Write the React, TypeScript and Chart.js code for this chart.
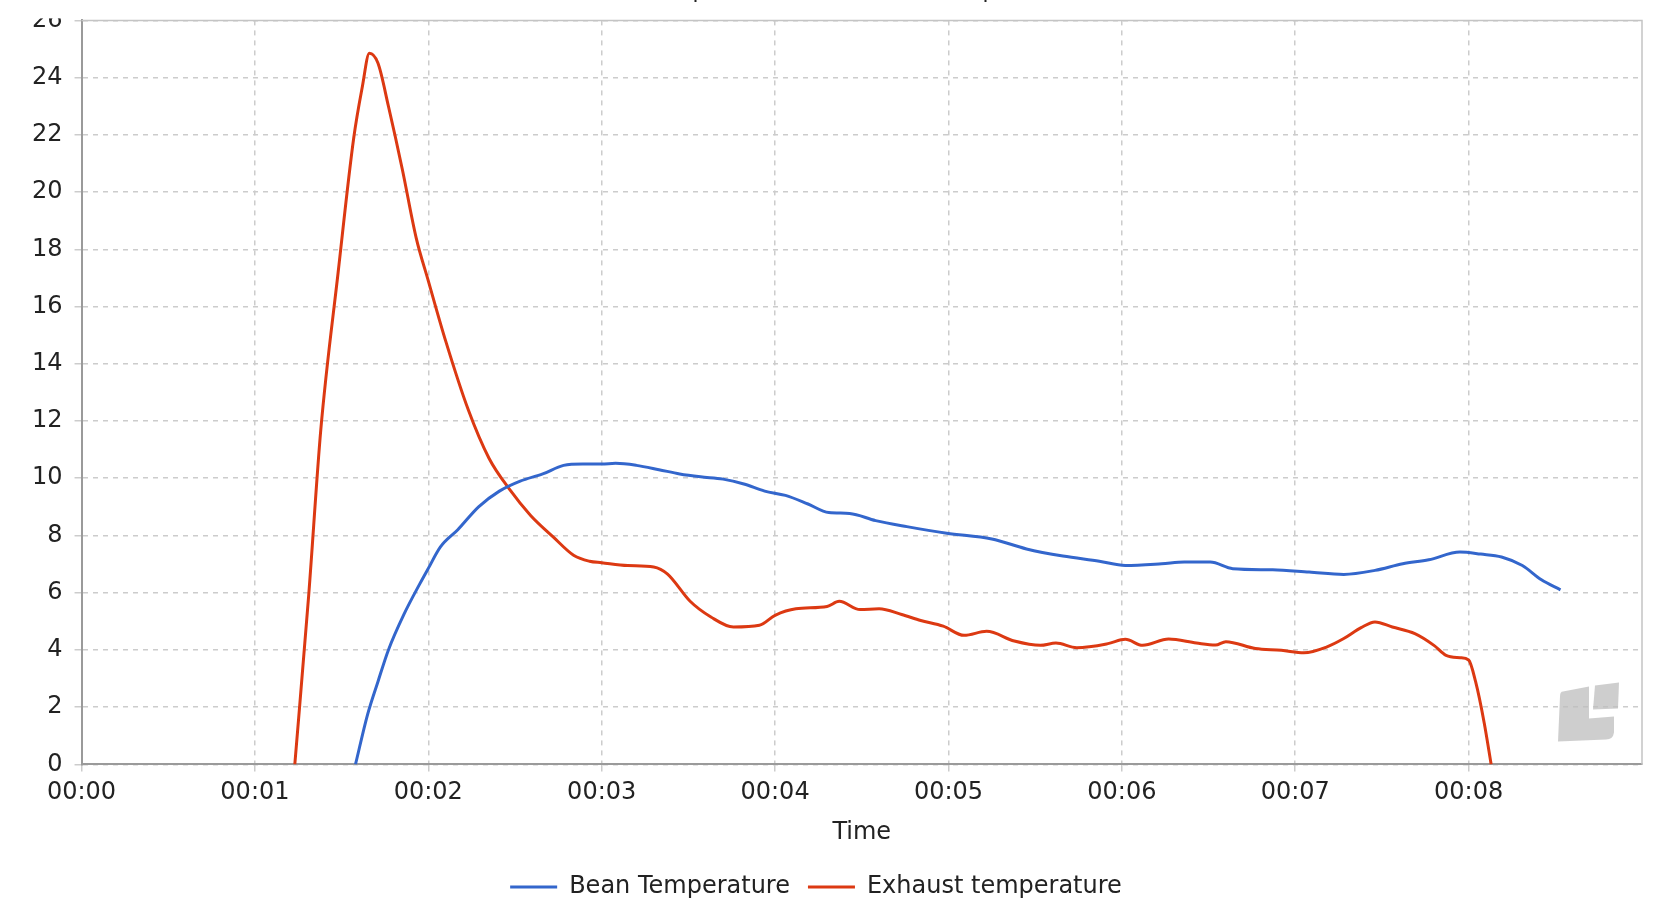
import { useEffect, useRef } from "react";
import { Chart, type ChartConfiguration, type Plugin, registerables } from "chart.js";

Chart.register(...registerables);

const CHART_TITLE = "Bean Temperature and Exhaust Temperature";
const BEAN_LABEL = "Bean Temperature";
const EXHAUST_LABEL = "Exhaust temperature";
const X_TITLE = "Time";

const X_TICKS = [0, 1, 2, 3, 4, 5, 6, 7, 8];
const Y_TICKS = [0, 2, 4, 6, 8, 10, 12, 14, 16, 18, 20, 22, 24, 26];

const beanTimes = [
  1.58, 1.65, 1.71, 1.77, 1.86, 1.95, 2.0, 2.07, 2.17, 2.29, 2.41, 2.53, 2.66, 2.78, 2.89, 3.0,
  3.08, 3.2, 3.33, 3.45, 3.57, 3.7, 3.82, 3.94, 4.06, 4.19, 4.31, 4.43, 4.58, 4.76, 4.99, 5.25,
  5.45, 5.66, 5.87, 6.02, 6.23, 6.36, 6.51, 6.64, 6.87, 7.08, 7.28, 7.46, 7.62, 7.77, 7.95, 8.07,
  8.19, 8.31, 8.42, 8.53,
];
const beanValues = [
  0, 1.75, 2.9, 4.0, 5.25, 6.3, 6.85, 7.6, 8.2, 9.0, 9.55, 9.9, 10.15, 10.45, 10.5, 10.5,
  10.52, 10.45, 10.3, 10.15, 10.05, 9.97, 9.8, 9.55, 9.4, 9.1, 8.8, 8.77, 8.52, 8.31, 8.08, 7.88,
  7.53, 7.28, 7.1, 6.95, 7.01, 7.07, 7.07, 6.84, 6.8, 6.72, 6.64, 6.78, 7.01, 7.15, 7.42, 7.35,
  7.25, 6.95, 6.45, 6.1,
];

const exhaustTimes = [
  1.23, 1.31, 1.38, 1.48, 1.57, 1.62, 1.66, 1.71, 1.77, 1.85, 1.93, 2.0, 2.1, 2.23, 2.35, 2.47,
  2.59, 2.72, 2.84, 2.93, 3.0, 3.15, 3.3, 3.38, 3.51, 3.63, 3.76, 3.91, 4.0, 4.12, 4.3, 4.37,
  4.49, 4.6, 4.73, 4.84, 4.97, 5.09, 5.22, 5.38, 5.53, 5.62, 5.74, 5.92, 6.02, 6.12, 6.27, 6.43,
  6.54, 6.6, 6.77, 6.92, 7.05, 7.18, 7.28, 7.38, 7.46, 7.56, 7.69, 7.8, 7.87, 7.95, 8.0, 8.04,
  8.09, 8.13,
];
const exhaustValues = [
  0, 5.9, 11.7, 17.2, 21.9, 23.7, 24.85, 24.5, 23.0, 20.8, 18.4, 16.9, 14.8, 12.4, 10.7, 9.6,
  8.7, 7.95, 7.3, 7.1, 7.05, 6.95, 6.9, 6.65, 5.7, 5.15, 4.8, 4.86, 5.21, 5.44, 5.52, 5.7,
  5.41, 5.44, 5.24, 5.03, 4.83, 4.51, 4.65, 4.31, 4.16, 4.24, 4.08, 4.22, 4.37, 4.16, 4.38, 4.24,
  4.17, 4.29, 4.05, 3.99, 3.9, 4.1, 4.4, 4.78, 4.98, 4.8, 4.57, 4.16, 3.81, 3.73, 3.65, 2.9,
  1.45, 0,
];

const BLUE = "#3366cc";
const RED = "#dc3912";
const TEXT = "#222222";
const GRID = "#cccccc";
const AXIS = "#9a9a9a";
const FONT = "'DejaVu Sans', sans-serif";

const toPoints = (xs: number[], ys: number[]) => xs.map((x, i) => ({ x, y: ys[i] }));

// frame on the top/right, the grey watermark and the clipped corner above the y axis
const framePlugin: Plugin = {
  id: "frame",
  afterLayout(chart) {
    // the legend sits a little left of the canvas centre
    const legend = chart.legend;
    if (legend) {
      legend.left -= 15;
      legend.right -= 15;
    }
  },
  beforeDatasetsDraw(chart) {
    const { ctx, chartArea } = chart;
    const { right: r, bottom: b } = chartArea;
    ctx.save();
    ctx.fillStyle = "rgba(190,190,190,0.75)";
    ctx.beginPath();
    ctx.moveTo(r - 79, b - 73);
    ctx.lineTo(r - 53, b - 78);
    ctx.lineTo(r - 53, b - 46);
    ctx.lineTo(r - 28, b - 48);
    ctx.lineTo(r - 28, b - 32);
    ctx.quadraticCurveTo(r - 29, b - 25, r - 36, b - 25);
    ctx.lineTo(r - 84, b - 23);
    ctx.lineTo(r - 82, b - 68);
    ctx.quadraticCurveTo(r - 82, b - 73, r - 79, b - 73);
    ctx.closePath();
    ctx.fill();
    ctx.beginPath();
    ctx.moveTo(r - 47, b - 79);
    ctx.lineTo(r - 23, b - 82);
    ctx.lineTo(r - 24, b - 56);
    ctx.lineTo(r - 49, b - 55);
    ctx.closePath();
    ctx.fill();
    ctx.restore();
  },
  afterDraw(chart) {
    const { ctx, chartArea } = chart;
    ctx.save();
    ctx.strokeStyle = "#c4c4c4";
    ctx.lineWidth = 1.5;
    ctx.beginPath();
    ctx.moveTo(chartArea.left, chartArea.top);
    ctx.lineTo(chartArea.right, chartArea.top);
    ctx.lineTo(chartArea.right, chartArea.bottom);
    ctx.stroke();
    ctx.fillStyle = "#ffffff";
    ctx.fillRect(0, 0, chartArea.left - 9, chartArea.top - 2);
    ctx.restore();
  },
};

export default function App() {
  const canvasRef = useRef<HTMLCanvasElement>(null);
  const chartRef = useRef<Chart | null>(null);

  useEffect(() => {
    if (!canvasRef.current) return;
    const ctx = canvasRef.current.getContext("2d");
    if (!ctx) return;

    if (chartRef.current) {
      chartRef.current.destroy();
      chartRef.current = null;
    }

    const tickFont = { family: FONT, size: 24 };

    const config: ChartConfiguration<"line"> = {
      type: "line",
      data: {
        datasets: [
          {
            label: BEAN_LABEL,
            data: toPoints(beanTimes, beanValues),
            borderColor: BLUE,
            backgroundColor: BLUE,
            borderWidth: 3,
            pointRadius: 0,
            cubicInterpolationMode: "monotone",
          },
          {
            label: EXHAUST_LABEL,
            data: toPoints(exhaustTimes, exhaustValues),
            borderColor: RED,
            backgroundColor: RED,
            borderWidth: 3,
            pointRadius: 0,
            cubicInterpolationMode: "monotone",
          },
        ],
      },
      options: {
        responsive: true,
        maintainAspectRatio: false,
        animation: false,
        layout: { padding: { left: 20, right: 22, top: 0, bottom: 7 } },
        plugins: {
          title: {
            display: true,
            text: CHART_TITLE,
            color: TEXT,
            font: { family: FONT, size: 22, weight: "normal" },
            padding: { top: 0, bottom: 15 },
          },
          legend: {
            position: "bottom",
            labels: {
              color: TEXT,
              font: tickFont,
              usePointStyle: true,
              pointStyle: "line",
              pointStyleWidth: 47,
              padding: 18,
            },
          },
          tooltip: { enabled: false },
        },
        scales: {
          x: {
            type: "linear",
            min: 0,
            max: 9,
            afterBuildTicks: (scale) => {
              scale.ticks = X_TICKS.map((value) => ({ value }));
            },
            ticks: {
              color: TEXT,
              font: tickFont,
              padding: 7,
              maxRotation: 0,
              callback: (v) => `00:0${v}`,
            },
            grid: { color: GRID, lineWidth: 1.5, tickLength: 7, tickColor: GRID },
            border: { color: AXIS, width: 2, dash: [5, 5] },
            title: {
              display: true,
              text: X_TITLE,
              color: TEXT,
              font: tickFont,
              padding: { top: 4.5, bottom: 9.5 },
            },
          },
          y: {
            type: "linear",
            min: 0,
            max: 26,
            afterBuildTicks: (scale) => {
              scale.ticks = Y_TICKS.map((value) => ({ value }));
            },
            ticks: { color: TEXT, font: tickFont, padding: 12 },
            grid: { color: GRID, lineWidth: 1.5, tickLength: 7, tickColor: GRID },
            border: { color: AXIS, width: 2, dash: [5, 5] },
          },
        },
      },
      plugins: [framePlugin],
    };

    chartRef.current = new Chart(ctx, config);

    return () => {
      if (chartRef.current) {
        chartRef.current.destroy();
        chartRef.current = null;
      }
    };
  }, []);

  return (
    <div
      style={{
        position: "fixed",
        left: 0,
        top: 0,
        width: 1664,
        height: 916,
        overflow: "hidden",
        background: "#ffffff",
      }}
    >
      <div style={{ position: "absolute", left: 0, top: -21, width: 1664, height: 937 }}>
        <canvas ref={canvasRef}></canvas>
      </div>
    </div>
  );
}
